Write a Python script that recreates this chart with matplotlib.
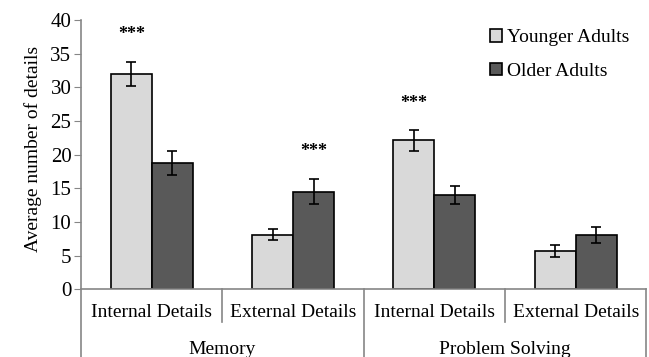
import numpy as np
import matplotlib.pyplot as plt
import matplotlib.transforms as mtransforms

plt.rcParams['font.family'] = ['Liberation Serif', 'DejaVu Serif']

# data
categories = ['Internal Details', 'External Details', 'Internal Details', 'External Details']
groups = ['Memory', 'Problem Solving']
younger = [32.0, 8.1, 22.1, 5.7]
younger_err = [1.8, 0.8, 1.5, 0.9]
older = [18.8, 14.5, 14.0, 8.1]
older_err = [1.8, 1.9, 1.3, 1.2]
# which bar gets the *** : (category index, 'y' or 'o')
signif = [(0, 'y'), (1, 'o'), (2, 'y')]

fig = plt.figure(figsize=(6.49, 3.57), dpi=100)
ax = fig.add_axes((0.125, 0.19, 0.871, 0.754))

x = np.arange(len(categories))
w = 0.29
ax.bar(x - w/2, younger, w, color='#d9d9d9', edgecolor='black', linewidth=1.2,
       label='Younger Adults', zorder=2)
ax.bar(x + w/2, older, w, color='#595959', edgecolor='black', linewidth=1.2,
       label='Older Adults', zorder=2)
ax.errorbar(x - w/2, younger, yerr=younger_err, fmt='none', ecolor='black',
            elinewidth=1.2, capsize=3.5, capthick=1.2, zorder=3)
ax.errorbar(x + w/2, older, yerr=older_err, fmt='none', ecolor='black',
            elinewidth=1.2, capsize=3.5, capthick=1.2, zorder=3)

for i, who in signif:
    if who == 'y':
        xx, top = x[i] - w/2, younger[i] + younger_err[i]
    else:
        xx, top = x[i] + w/2, older[i] + older_err[i]
    ax.text(xx, top + 4.0, '***', ha='center', va='center', fontsize=13,
            fontweight='bold')

ax.set_xlim(-0.5, 3.5)
ax.set_ylim(0, 40)
ax.set_yticks(range(0, 41, 5))
ax.tick_params(axis='y', labelsize=15, length=5, color='#868686', pad=2)
ax.set_xticks([])
ax.set_ylabel('Average number of details', fontsize=14, labelpad=6, y=0.52)

for s in ['top', 'right', 'left']:
    ax.spines[s].set_visible(False)
ax.spines['bottom'].set_color('#868686')
ax.spines['bottom'].set_linewidth(1.2)

# vertical axis line and category separators
trans = mtransforms.blended_transform_factory(ax.transData, fig.transFigure)
gray = '#868686'
ax.plot([-0.5, -0.5], [0, 0.944], transform=trans, color=gray, lw=1.2, clip_on=False)
for xs in [1.5, 3.5]:
    ax.plot([xs, xs], [0, 0.19], transform=trans, color=gray, lw=1.2, clip_on=False)
for xs in [0.5, 2.5]:
    ax.plot([xs, xs], [0.098, 0.19], transform=trans, color=gray, lw=1.2, clip_on=False)

for i, c in enumerate(categories):
    ax.text(x[i], 0.125, c, transform=trans, ha='center', va='center', fontsize=14)
for j, g in enumerate(groups):
    ax.text(2*j + 0.5, 0.022, g, transform=trans, ha='center', va='center', fontsize=14)

ax.legend(loc='upper right', bbox_to_anchor=(1.0, 1.03), frameon=False, fontsize=14,
          handlelength=0.6, handleheight=0.6, handletextpad=0.25, labelspacing=0.85)

fig.savefig('out.png', dpi=100)
